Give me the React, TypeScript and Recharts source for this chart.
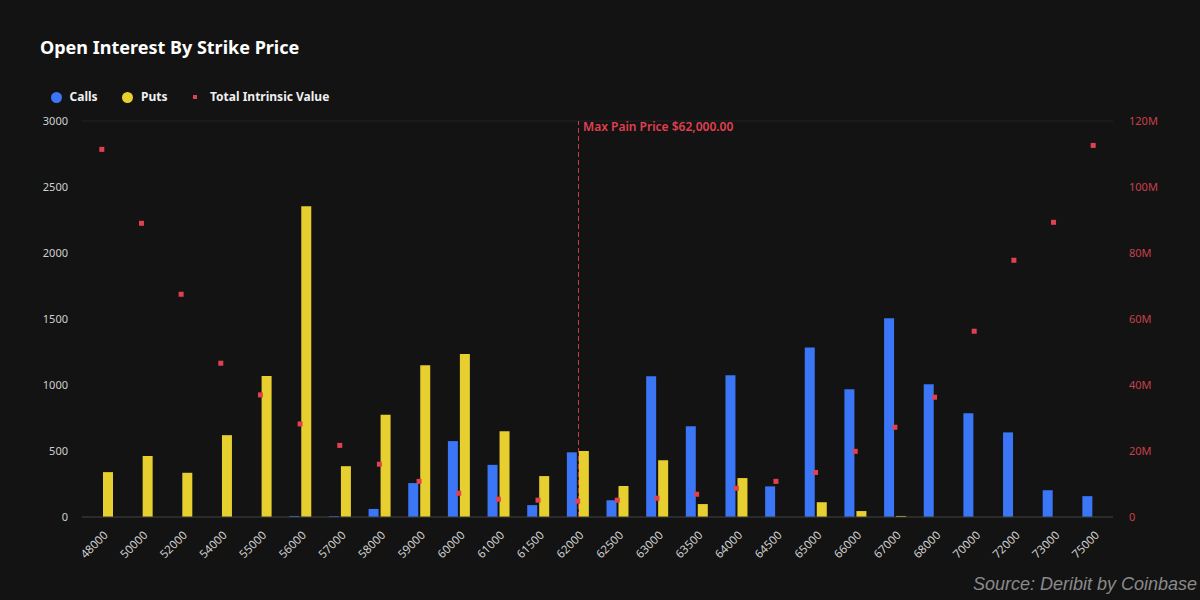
import React from 'react';
import {
  ComposedChart, Bar, Scatter, XAxis, YAxis, CartesianGrid, ReferenceLine,
} from 'recharts';

const strikes = ['48000','50000','52000','54000','55000','56000','57000','58000','59000','60000','61000','61500','62000','62500','63000','63500','64000','64500','65000','66000','67000','68000','70000','72000','73000','75000'];
const calls = [0,0,0,0,0,8,6,61,257,575,395,90,490,127,1066,687,1074,232,1285,968,1505,1006,786,641,203,158];
const puts = [340,462,335,620,1068,2355,385,775,1150,1235,650,310,500,235,430,98,295,0,112,45,8,0,0,0,0,0];
const intrinsicM = [111.4,89.0,67.5,46.6,37.0,28.2,21.7,16.0,10.8,7.2,5.4,5.1,4.8,5.1,5.7,6.9,8.7,10.8,13.5,19.9,27.2,36.3,56.3,77.8,89.3,112.6];
const leftTicks = [0,500,1000,1500,2000,2500,3000];
const rightTicksM = [0,20,40,60,80,100,120];
const maxPainStrike = '62000';

const data = strikes.map((s, i) => ({
  strike: s,
  calls: calls[i],
  puts: puts[i],
  tiv: intrinsicM[i] * 1e6,
}));

const BLUE = '#3a76f5';
const YELLOW = '#e6cf2f';
const RED = '#e0404f';
const BG = '#131313';
const FONT = '"Noto Sans", "Open Sans", sans-serif';

const SquareDot = (props: any) => {
  const { cx, cy } = props;
  if (cx == null || cy == null) return null;
  return <rect x={cx - 2.5} y={cy - 2.5} width={5} height={5} fill={RED} />;
};

const XTick = (props: any) => {
  const { x, y, payload } = props;
  return (
    <g transform={`translate(${x + 4},${y + 8})`}>
      <text transform="rotate(-45)" textAnchor="end" fill="#d0d0d0" fontSize={11.5} fontFamily={FONT} dy={4}>
        {payload.value}
      </text>
    </g>
  );
};

const fmtRight = (v: number) => (v === 0 ? '0' : `${Math.round(v / 1e6)}M`);

const legendText: React.CSSProperties = {
  position: 'absolute', top: 88, fontFamily: FONT, fontSize: 12, fontWeight: 700, color: '#f0f0f0', lineHeight: '18px', whiteSpace: 'nowrap',
};

const LegendBox = () => (
  <div>
    <span style={{ position: 'absolute', left: 50.5, top: 91.5, width: 11, height: 11, borderRadius: 6, background: BLUE }} />
    <span style={{ ...legendText, left: 69.5 }}>Calls</span>
    <span style={{ position: 'absolute', left: 122, top: 91.5, width: 11, height: 11, borderRadius: 6, background: YELLOW }} />
    <span style={{ ...legendText, left: 141 }}>Puts</span>
    <span style={{ position: 'absolute', left: 193, top: 95, width: 4, height: 4, background: RED }} />
    <span style={{ ...legendText, left: 210 }}>Total Intrinsic Value</span>
  </div>
);

const MaxPainLabel = (props: any) => {
  const { viewBox } = props;
  const x = viewBox?.x ?? 0;
  const y = viewBox?.y ?? 0;
  return (
    <text x={Math.round(x) + 5} y={y + 10} fill={RED} fontSize={12} fontWeight={600} fontFamily={FONT}>
      Max Pain Price $62,000.00
    </text>
  );
};

const DashedShape = (props: any) => {
  const { x1, y1, y2 } = props;
  const x = Math.round(x1) + 0.5;
  return <line x1={x} x2={x} y1={y1} y2={y2} stroke="#d03a4a" strokeWidth={1} strokeDasharray="5 3" />;
};

export default function App() {
  return (
    <div style={{ position: 'fixed', left: 0, top: 0, width: 1200, height: 600, background: BG, overflow: 'hidden' }}>
      <div style={{ position: 'absolute', left: 40, top: 35, fontFamily: FONT, fontSize: 18, fontWeight: 700, color: '#ffffff' }}>
        Open Interest By Strike Price
      </div>
      <LegendBox />
      <ComposedChart
        width={1200}
        height={600}
        data={data}
        margin={{ top: 121, right: 0, bottom: 0, left: 0 }}
        barGap={2}
      >
        <CartesianGrid vertical={false} stroke="#222222" />
        <XAxis
          dataKey="strike"
          interval={0}
          height={83}
          tick={<XTick />}
          tickLine={false}
          axisLine={{ stroke: '#3c3c3c' }}
        />
        <YAxis
          yAxisId="left"
          width={82}
          domain={[0, 3000]}
          ticks={leftTicks}
          tickLine={false}
          axisLine={false}
          tickSize={0}
          tickMargin={14}
          tick={{ fill: '#d0d0d0', fontSize: 11, fontFamily: FONT }}
        />
        <YAxis
          yAxisId="right"
          orientation="right"
          width={87}
          domain={[0, 120e6]}
          ticks={rightTicksM.map((m) => m * 1e6)}
          tickFormatter={fmtRight}
          tickLine={false}
          axisLine={false}
          tickSize={0}
          tickMargin={16}
          tick={{ fill: '#c8404c', fontSize: 11, fontFamily: FONT }}
        />
        <Bar yAxisId="left" dataKey="calls" name="Calls" fill={BLUE} barSize={10} isAnimationActive={false} />
        <Bar yAxisId="left" dataKey="puts" name="Puts" fill={YELLOW} barSize={10} isAnimationActive={false} />
        <Scatter yAxisId="right" dataKey="tiv" name="Total Intrinsic Value" fill={RED} shape={<SquareDot />} isAnimationActive={false} />
        <ReferenceLine
          yAxisId="left"
          x={maxPainStrike}
          stroke="#d03a4a"
          shape={<DashedShape />}
          label={<MaxPainLabel />}
        />
      </ComposedChart>
      <div style={{ position: 'absolute', right: 3, top: 574, fontFamily: '"Liberation Sans", Arial, sans-serif', fontStyle: 'italic', fontSize: 18, color: '#8a8a8a' }}>
        Source: Deribit by Coinbase
      </div>
    </div>
  );
}
